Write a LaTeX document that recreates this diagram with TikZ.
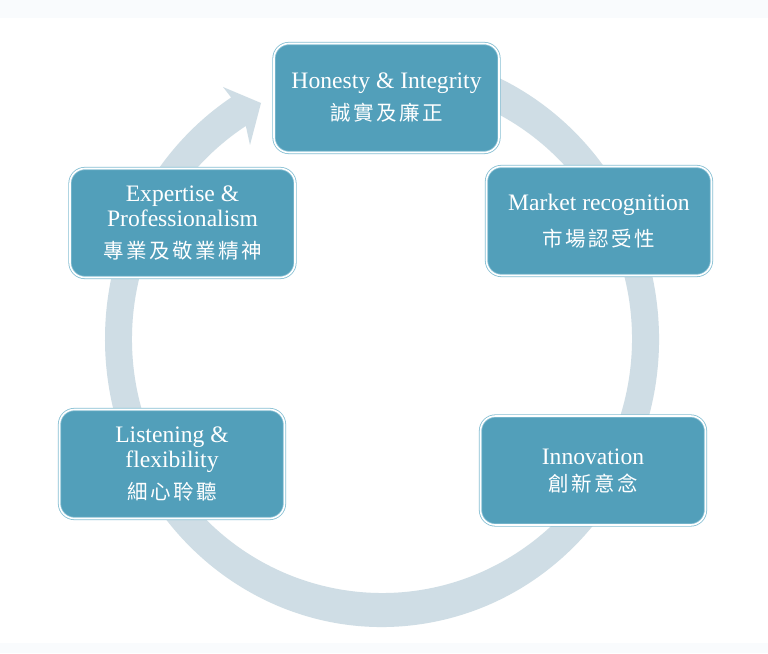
\documentclass[tikz,border=0pt]{standalone}
\usepackage{fontspec}
\setmainfont{Liberation Serif}
\newfontfamily\cjk[LetterSpace=12]{Noto Sans CJK TC}
\usetikzlibrary{calc}
\definecolor{boxblue}{HTML}{529FBA}
\definecolor{boxedge}{HTML}{86BFD3}
\definecolor{ringc}{HTML}{CFDDE5}
\definecolor{band}{HTML}{F9FBFD}
\newcommand{\zhtxt}[1]{{\cjk\fontsize{20.5}{22}\selectfont #1}}
\begin{document}
\begin{tikzpicture}[x=1pt,y=1pt,
  cyclebox/.style={draw=boxedge, double=white, double distance=1.6pt, line width=0.8pt,
    fill=boxblue, rounded corners=15pt, minimum width=225pt, minimum height=109pt,
    inner sep=0pt, text=white, align=center, font=\fontsize{23.6}{25}\selectfont}]
\useasboundingbox (0,0) rectangle (768,653);
\fill[white] (0,0) rectangle (768,653);
\fill[band] (0,635) rectangle (768,653);
\fill[band] (0,0) rectangle (768,10);
\coordinate (c) at (382,314);
\fill[ringc] ($(c)+(100:277 and 288)$)
  arc[start angle=100,end angle=-237,x radius=277,y radius=288]
  -- (223,566) -- (261,550) -- (250,508)
  -- ($(c)+(123:250 and 254)$)
  arc[start angle=123,end angle=460,x radius=250,y radius=254] -- cycle;
\node[cyclebox] (h) at (386.5,555) {Honesty \& Integrity\\[7pt]\zhtxt{誠實及廉正}};
\node[cyclebox] (m) at (599,432) {Market recognition\\[11pt]\zhtxt{市場認受性}};
\node[cyclebox] (i) at (593,182.5) {Innovation\\[2pt]\zhtxt{創新意念}};
\node[cyclebox] (l) at (172,189) {Listening \&\\flexibility\\[7pt]\zhtxt{細心聆聽}};
\node[cyclebox] (e) at (182.5,430) {Expertise \&\\Professionalism\\[7pt]\zhtxt{專業及敬業精神}};
\end{tikzpicture}
\end{document}
